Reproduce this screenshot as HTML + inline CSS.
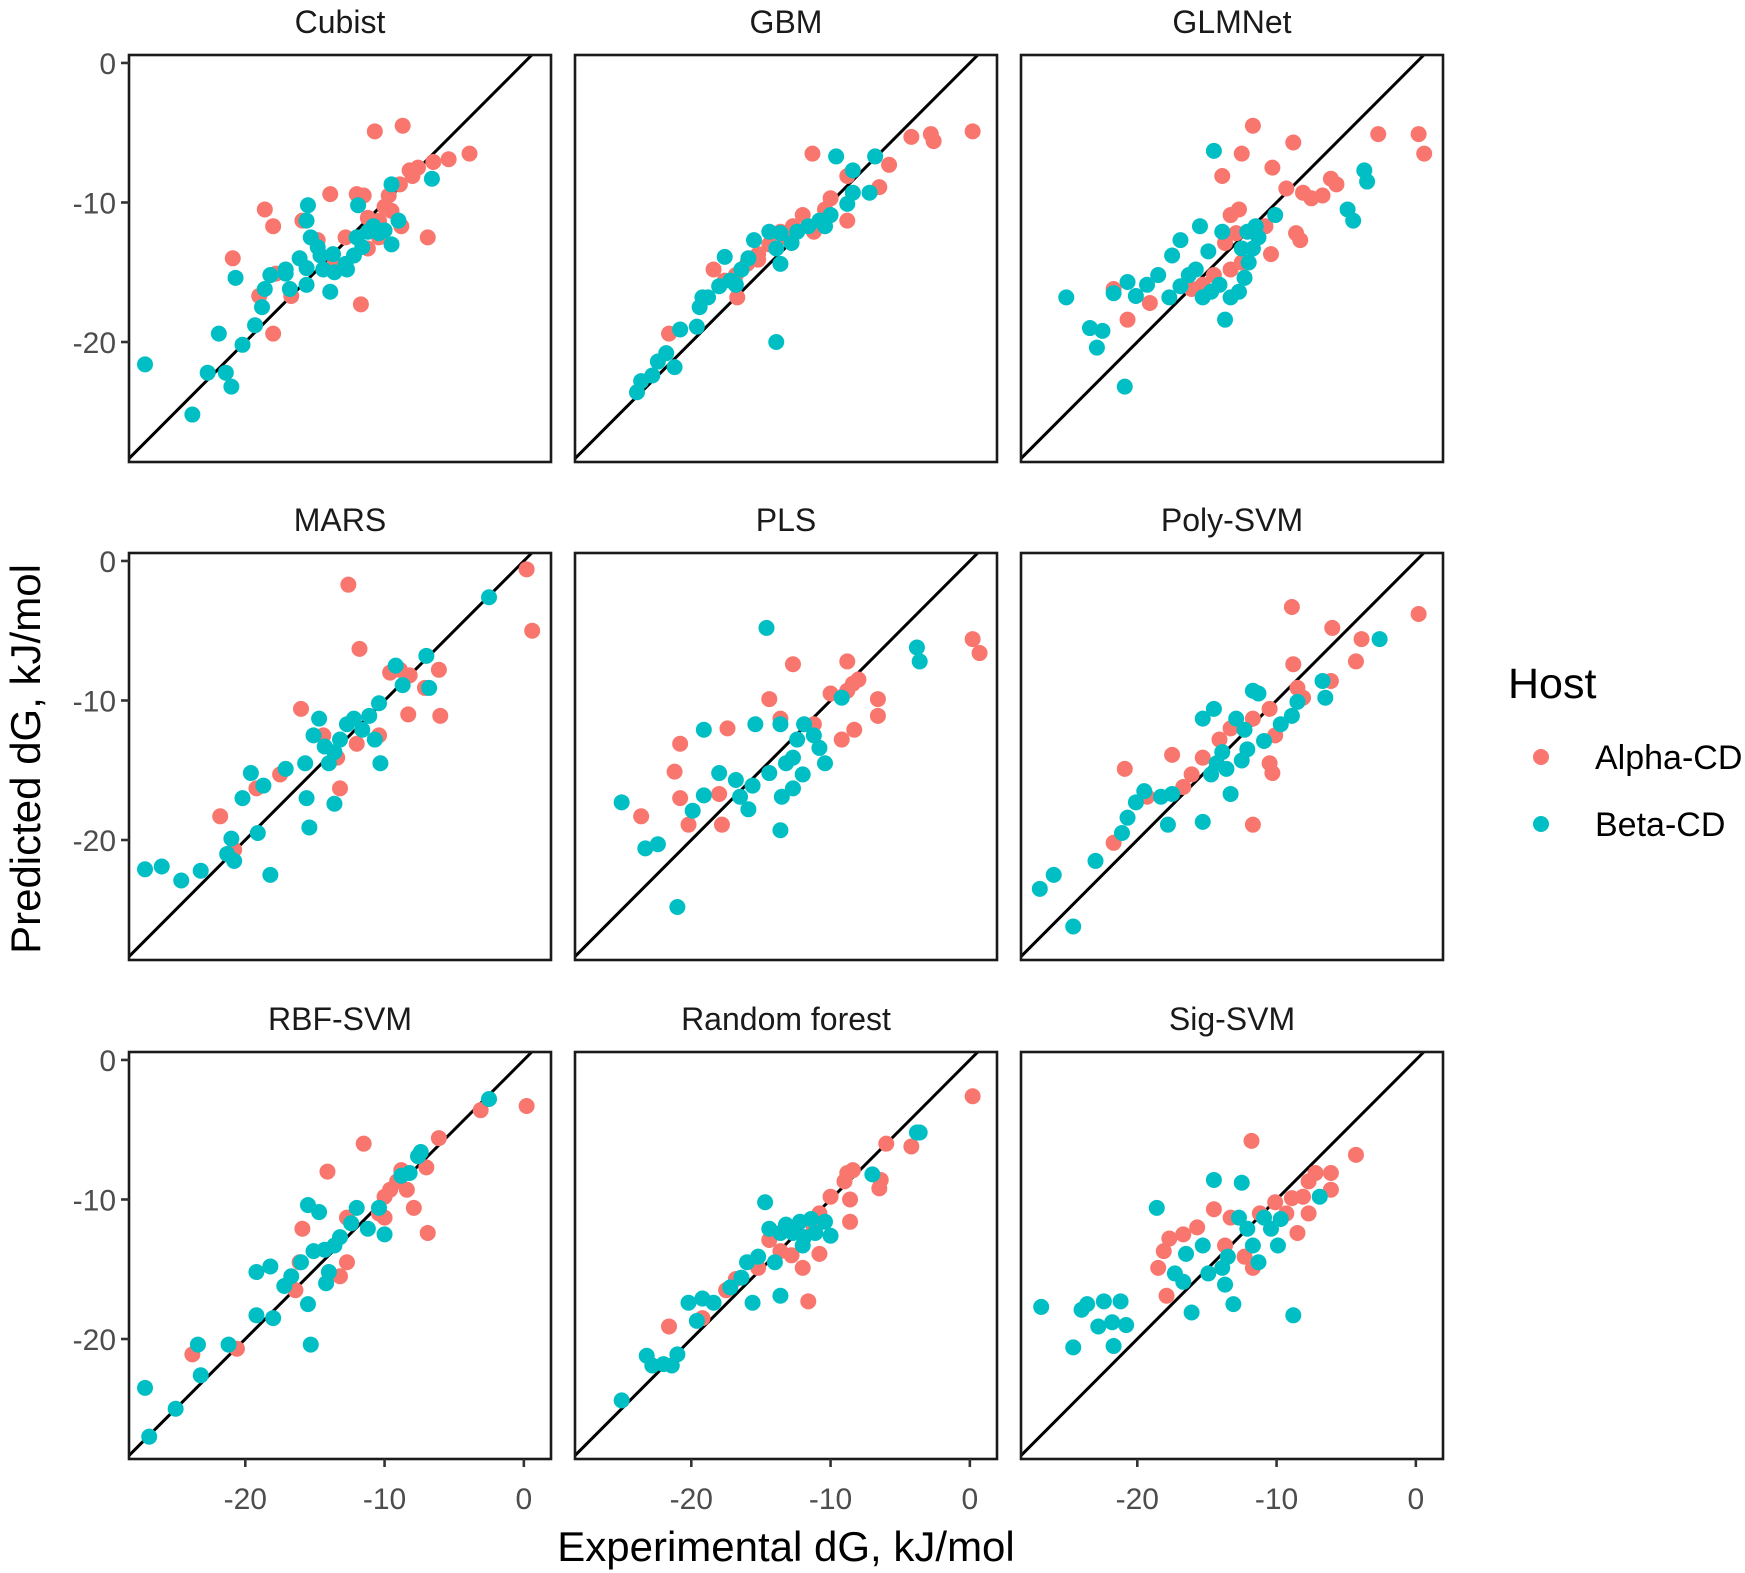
<!DOCTYPE html>
<html><head><meta charset="utf-8"><style>
html,body{margin:0;padding:0;background:#fff;}
svg{display:block;font-family:"Liberation Sans",sans-serif;}
</style></head><body>
<svg id="chart" width="1745" height="1573" viewBox="0 0 1745 1573" xmlns="http://www.w3.org/2000/svg">
<rect width="1745" height="1573" fill="#fff"/>
<text x="0" y="0" transform="translate(40,759) rotate(-90)" text-anchor="middle" font-size="42" fill="#000">Predicted dG, kJ/mol</text>
<text x="786" y="1561" text-anchor="middle" font-size="42" fill="#000">Experimental dG, kJ/mol</text>
<g>
<text x="1508" y="698" font-size="43" fill="#000">Host</text>
<circle cx="1541" cy="757" r="8" fill="#F8766D"/>
<text x="1595" y="769" font-size="34" fill="#000">Alpha-CD</text>
<circle cx="1541" cy="824" r="8" fill="#00BFC4"/>
<text x="1595" y="836" font-size="34" fill="#000">Beta-CD</text>
</g>
<g id="panels"></g>
</svg>
<script>
const panelNames = ["Cubist","GBM","GLMNet","MARS","PLS","Poly-SVM","RBF-SVM","Random forest","Sig-SVM"];
const xTicks = [-20,-10,0];
const yTicks = [0,-10,-20];
const alphaX = [
[-10.7,-8.7,-3.9,-5.4,-6.5,-7.6,-8.2,-8.0,-8.9,-11.5,-13.9,-12.0,-9.7,-9.5,-10.0,-10.4,-11.2,-8.8,-6.9,-10.4,-15.9,-18.6,-18.0,-20.9,-17.8,-19.0,-16.7,-18.0,-11.7,-14.8,-12.8,-11.2,-13.6],
[0.2,-2.8,-2.6,-4.2,-5.8,-11.3,-8.8,-10.0,-10.4,-12.0,-12.7,-13.6,-14.4,-15.2,-16.0,-16.8,-18.4,-17.6,-16.7,-21.6,-8.8,-11.2,-13.2,-15.2,-6.5],
[0.2,0.6,-2.7,-8.8,-11.7,-13.9,-12.5,-10.3,-9.3,-8.1,-6.1,-5.7,-6.7,-7.5,-8.6,-8.3,-12.7,-13.3,-12.9,-13.7,-12.5,-13.3,-14.5,-15.3,-16.1,-19.1,-21.7,-20.7,-10.8,-10.4],
[0.2,0.6,-12.6,-11.8,-8.9,-8.2,-6.1,-7.1,-8.3,-6.0,-9.6,-10.4,-16.0,-13.4,-13.2,-17.5,-19.2,-21.8,-20.8,-14.4,-12.0],
[0.2,0.7,-12.7,-8.8,-8.0,-8.4,-8.8,-10.0,-6.6,-6.6,-8.3,-9.2,-14.4,-13.6,-11.2,-20.8,-17.4,-21.2,-18.0,-17.8,-20.2,-23.6,-20.8],
[0.2,-8.9,-6.0,-3.9,-4.3,-8.8,-6.1,-8.5,-8.1,-10.5,-11.7,-10.1,-10.5,-10.3,-11.7,-13.3,-14.1,-15.3,-16.1,-17.5,-20.9,-19.3,-21.7,-16.7],
[0.2,-3.1,-6.1,-11.5,-14.1,-7.0,-8.8,-9.1,-8.4,-9.6,-10.0,-7.9,-6.9,-10.4,-12.7,-15.9,-12.7,-13.2,-16.1,-16.4,-20.6,-23.8,-10.0],
[0.2,-6.0,-4.2,-8.4,-8.8,-9.0,-10.0,-6.4,-6.5,-8.6,-8.6,-10.8,-11.2,-10.8,-12.0,-11.6,-14.4,-13.6,-15.2,-16.8,-17.5,-19.2,-21.6,-12.8],
[-4.3,-11.8,-6.1,-7.2,-6.1,-7.7,-8.1,-8.9,-10.1,-9.3,-7.7,-8.5,-11.2,-13.3,-14.5,-15.7,-16.7,-17.7,-18.1,-18.5,-17.9,-11.7,-12.3,-13.7]
];
const alphaY = [
[-4.9,-4.5,-6.5,-6.9,-7.1,-7.5,-7.7,-8.1,-8.7,-9.5,-9.4,-9.4,-9.5,-10.6,-10.3,-11.3,-11.1,-11.7,-12.5,-12.5,-11.3,-10.5,-11.7,-14.0,-15.1,-16.7,-16.7,-19.4,-17.3,-12.7,-12.5,-13.3,-14.4],
[-4.9,-5.1,-5.6,-5.3,-7.3,-6.5,-8.1,-9.7,-10.5,-10.9,-11.7,-12.1,-13.0,-13.7,-14.4,-15.2,-14.8,-15.6,-16.8,-19.4,-11.3,-12.1,-12.5,-14.1,-8.9],
[-5.1,-6.5,-5.1,-5.7,-4.5,-8.1,-6.5,-7.5,-9.0,-9.3,-8.3,-8.7,-9.5,-9.7,-12.2,-12.7,-10.5,-10.9,-12.2,-12.9,-14.3,-14.8,-15.2,-15.9,-16.2,-17.2,-16.2,-18.4,-11.7,-13.7],
[-0.6,-5.0,-1.7,-6.3,-7.8,-8.2,-7.8,-9.1,-11.0,-11.1,-8.0,-12.5,-10.6,-14.1,-16.3,-15.3,-16.3,-18.3,-20.7,-12.5,-13.1],
[-5.6,-6.6,-7.4,-7.2,-8.5,-8.8,-9.3,-9.5,-9.9,-11.1,-12.1,-12.8,-9.9,-11.3,-11.7,-13.1,-12.0,-15.1,-16.7,-18.9,-18.9,-18.3,-17.0],
[-3.8,-3.3,-4.8,-5.6,-7.2,-7.4,-8.6,-9.1,-9.8,-10.6,-11.3,-12.5,-14.5,-15.2,-18.9,-12.0,-12.8,-14.1,-15.3,-13.9,-14.9,-16.9,-20.2,-16.2],
[-3.3,-3.6,-5.6,-6.0,-8.0,-7.7,-7.9,-8.7,-9.3,-9.3,-9.8,-10.6,-12.4,-11.0,-11.3,-12.1,-14.5,-15.5,-14.5,-16.5,-20.7,-21.1,-11.3],
[-2.6,-6.0,-6.2,-7.9,-8.1,-8.7,-9.8,-8.6,-9.2,-10.0,-11.6,-11.0,-12.1,-13.9,-14.9,-17.3,-12.9,-13.7,-14.9,-15.7,-16.5,-18.5,-19.1,-14.0],
[-6.8,-5.8,-8.1,-8.1,-9.3,-8.7,-9.8,-9.9,-10.2,-11.0,-11.0,-12.4,-11.0,-11.3,-10.7,-12.0,-12.5,-12.8,-13.7,-14.9,-16.9,-14.9,-14.1,-13.3]
];
const betaX = [
[-27.2,-23.8,-22.7,-21.9,-21.0,-21.4,-20.2,-19.3,-18.8,-18.6,-20.7,-18.2,-17.1,-17.1,-16.8,-15.6,-15.6,-16.1,-15.3,-15.5,-15.6,-14.6,-13.7,-13.6,-13.9,-12.8,-12.2,-11.6,-11.2,-10.8,-10.4,-11.9,-10.0,-9.5,-9.0,-9.5,-6.6,-12.7,-14.8,-14.4,-12.0],
[-23.9,-23.6,-22.8,-22.4,-21.8,-21.2,-20.8,-19.6,-19.4,-19.2,-18.8,-18.0,-17.2,-16.8,-16.4,-15.9,-17.6,-15.5,-14.4,-13.6,-13.9,-12.8,-12.4,-11.6,-10.8,-10.0,-8.8,-8.4,-7.2,-8.4,-9.6,-6.8,-13.9,-13.6,-10.4],
[-25.1,-23.4,-22.9,-22.5,-20.9,-21.7,-20.7,-20.1,-19.3,-18.5,-17.7,-16.9,-16.3,-15.8,-15.3,-14.7,-14.1,-13.7,-13.3,-12.7,-12.3,-12.0,-11.7,-11.3,-11.5,-12.1,-12.5,-14.9,-15.5,-16.9,-14.5,-4.9,-4.5,-3.7,-3.5,-10.1,-13.9,-17.5],
[-27.2,-26.0,-24.6,-23.2,-21.3,-21.0,-20.8,-18.2,-19.1,-20.2,-19.6,-18.7,-17.1,-15.6,-15.4,-15.7,-15.1,-14.7,-14.3,-14.0,-13.6,-13.2,-12.7,-12.2,-11.6,-11.1,-10.3,-10.7,-10.4,-13.6,-8.7,-6.8,-7.0,-2.5,-9.2],
[-25.0,-23.3,-22.4,-21.0,-14.6,-19.1,-15.4,-18.0,-19.1,-19.9,-16.5,-15.6,-16.8,-15.9,-14.4,-13.5,-13.6,-13.2,-12.7,-12.4,-11.9,-11.2,-12.0,-10.4,-10.8,-12.7,-9.2,-3.8,-3.6,-13.6],
[-27.0,-26.0,-24.6,-23.0,-21.1,-20.7,-20.1,-19.5,-18.3,-17.8,-17.5,-15.3,-14.7,-14.3,-13.9,-13.6,-13.3,-15.3,-14.5,-12.9,-12.3,-11.7,-11.3,-12.5,-10.9,-9.7,-8.9,-8.5,-6.7,-6.5,-2.6,-12.1],
[-27.2,-26.9,-25.0,-23.2,-23.4,-21.2,-19.2,-19.2,-18.2,-18.0,-17.2,-16.7,-16.0,-15.5,-14.7,-15.1,-15.5,-15.3,-14.3,-14.0,-13.6,-13.2,-12.4,-12.0,-11.2,-10.4,-10.0,-8.8,-8.2,-7.6,-7.4,-2.5,-14.2],
[-25.0,-23.2,-22.8,-22.0,-21.4,-21.0,-20.2,-19.2,-19.6,-18.4,-17.2,-16.4,-16.0,-15.6,-15.2,-14.7,-14.4,-13.6,-13.6,-13.2,-12.7,-12.2,-11.9,-11.4,-11.1,-10.4,-10.0,-12.0,-7.0,-3.8,-3.6,-14.0],
[-26.9,-24.6,-24.0,-23.6,-22.8,-22.4,-21.8,-21.2,-20.8,-21.7,-18.6,-16.5,-17.3,-16.1,-16.7,-15.3,-14.9,-14.5,-13.7,-13.9,-13.5,-13.1,-12.7,-12.5,-12.1,-11.7,-11.3,-10.9,-10.4,-9.7,-8.8,-6.9,-9.9]
];
const betaY = [
[-21.6,-25.2,-22.2,-19.4,-23.2,-22.2,-20.2,-18.8,-17.5,-16.2,-15.4,-15.2,-14.8,-15.1,-16.2,-15.9,-14.7,-14.0,-12.5,-10.2,-11.3,-13.8,-13.7,-15.0,-16.4,-14.4,-13.8,-13.2,-12.1,-11.7,-12.2,-10.2,-12.0,-13.0,-11.3,-8.7,-8.3,-14.8,-13.2,-14.8,-12.5],
[-23.6,-22.8,-22.4,-21.4,-20.8,-21.8,-19.1,-18.9,-17.5,-16.8,-16.8,-16.0,-15.6,-15.9,-14.8,-14.0,-13.9,-12.7,-12.1,-12.2,-13.3,-12.9,-12.1,-11.7,-11.3,-10.9,-10.1,-9.3,-9.3,-7.7,-6.7,-6.7,-20.0,-14.4,-11.7],
[-16.8,-19.0,-20.4,-19.2,-23.2,-16.5,-15.7,-16.7,-15.9,-15.2,-16.8,-16.0,-15.2,-14.8,-16.8,-16.4,-15.9,-18.4,-16.8,-16.4,-15.4,-14.3,-13.3,-12.5,-11.7,-12.1,-13.3,-13.5,-11.7,-12.7,-6.3,-10.5,-11.3,-7.7,-8.5,-10.9,-12.1,-13.8],
[-22.1,-21.9,-22.9,-22.2,-21.0,-19.9,-21.5,-22.5,-19.5,-17.0,-15.2,-16.1,-14.9,-17.0,-19.1,-14.5,-12.5,-11.3,-13.3,-14.5,-13.7,-12.8,-11.7,-11.3,-12.1,-11.1,-14.5,-12.8,-10.2,-17.4,-8.9,-9.1,-6.8,-2.6,-7.5],
[-17.3,-20.6,-20.3,-24.8,-4.8,-12.1,-11.7,-15.2,-16.8,-17.9,-16.9,-16.1,-15.7,-17.8,-15.2,-16.9,-19.3,-14.5,-14.1,-12.8,-11.7,-12.5,-15.3,-14.5,-13.4,-16.3,-9.8,-6.2,-7.2,-11.7],
[-23.5,-22.5,-26.2,-21.5,-19.5,-18.4,-17.3,-16.5,-16.9,-18.9,-16.7,-18.7,-15.3,-14.5,-13.7,-14.9,-16.7,-11.3,-10.6,-11.3,-12.1,-9.3,-9.5,-14.3,-12.9,-11.7,-11.1,-10.1,-8.6,-9.8,-5.6,-13.5],
[-23.5,-27.0,-25.0,-22.6,-20.4,-20.4,-15.2,-18.3,-14.8,-18.5,-16.2,-15.5,-14.5,-10.4,-10.9,-13.7,-17.5,-20.4,-13.6,-15.2,-13.3,-12.7,-11.7,-10.6,-12.1,-10.6,-12.5,-8.3,-8.1,-6.9,-6.6,-2.8,-16.0],
[-24.4,-21.2,-21.9,-21.8,-21.9,-21.1,-17.4,-17.1,-18.7,-17.4,-16.3,-15.6,-14.5,-17.4,-14.1,-10.2,-12.1,-16.9,-12.4,-11.8,-12.4,-11.6,-12.7,-11.4,-12.4,-11.6,-12.6,-13.3,-8.2,-5.2,-5.2,-14.5],
[-17.7,-20.6,-17.9,-17.5,-19.1,-17.3,-18.8,-17.3,-19.0,-20.5,-10.6,-13.9,-15.3,-18.1,-15.9,-13.3,-15.3,-8.6,-16.1,-14.9,-14.1,-17.5,-11.3,-8.8,-12.1,-13.3,-14.5,-11.3,-12.1,-11.4,-18.3,-9.8,-13.3]
];

const NS = "http://www.w3.org/2000/svg";
const root = document.getElementById("panels");
const colLeft = [129, 575, 1021], rowTop = [55, 553, 1052];
const PW = 422, PH = 407;
const X0 = -28.35, X1 = 1.95, Y0 = -28.6, Y1 = 0.57;
function xScale(c, v) { return colLeft[c] + (v - X0) / (X1 - X0) * PW; }
function yScale(r, v) { return rowTop[r] + (Y1 - v) / (Y1 - Y0) * PH; }
function mk(tag, attrs, parent) {
  const e = document.createElementNS(NS, tag);
  for (const k in attrs) e.setAttribute(k, attrs[k]);
  parent.appendChild(e);
  return e;
}
const defs = mk("defs", {}, root);
panelNames.forEach((name, i) => {
  const r = Math.floor(i / 3), c = i % 3;
  const L = colLeft[c], T = rowTop[r];
  const slug = name.toLowerCase().replace(/\s+/g, "-");
  const g = mk("g", {}, root);
  
  
  const cp = mk("clipPath", { id: "clip" + i }, defs);
  mk("rect", { x: L, y: T, width: PW, height: PH }, cp);
  const title = mk("text", { x: L + PW / 2, y: T - 22, "text-anchor": "middle", "font-size": "32", fill: "#1a1a1a" }, g);
  title.textContent = name;
  
  
  const inner = mk("g", { "clip-path": "url(#clip" + i + ")" }, g);
  const diag = mk("line", { x1: xScale(c, X0), y1: yScale(r, X0), x2: xScale(c, Y1), y2: yScale(r, Y1), stroke: "#000", "stroke-width": "3" }, inner);
  
  
  alphaX[i].forEach((xv, j) => {
    const p = mk("circle", { cx: xScale(c, xv), cy: yScale(r, alphaY[i][j]), r: 8, fill: "#F8766D" }, inner);
    
    
  });
  betaX[i].forEach((xv, j) => {
    const p = mk("circle", { cx: xScale(c, xv), cy: yScale(r, betaY[i][j]), r: 8, fill: "#00BFC4" }, inner);
    
    
  });
  const border = mk("rect", { x: L, y: T, width: PW, height: PH, fill: "none", stroke: "#1a1a1a", "stroke-width": "2.6" }, g);
  
  
  if (c === 0) {
    yTicks.forEach(t => {
      const y = yScale(r, t);
      const tk = mk("line", { x1: L - 8, y1: y, x2: L, y2: y, stroke: "#333", "stroke-width": "2.6" }, g);
      
      
      const lb = mk("text", { x: L - 13, y: y + 11, "text-anchor": "end", "font-size": "30", fill: "#4d4d4d" }, g);
      lb.textContent = t;
      
      
    });
  }
  if (r === 2) {
    xTicks.forEach(t => {
      const x = xScale(c, t);
      const tk = mk("line", { x1: x, y1: T + PH, x2: x, y2: T + PH + 8, stroke: "#333", "stroke-width": "2.6" }, g);
      
      
      const lb = mk("text", { x: x, y: T + PH + 50, "text-anchor": "middle", "font-size": "30", fill: "#4d4d4d" }, g);
      lb.textContent = t;
      
      
    });
  }
});
</script>
</body></html>
